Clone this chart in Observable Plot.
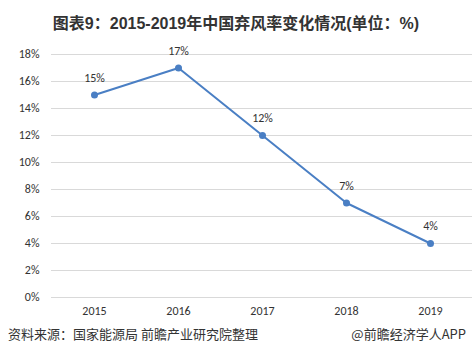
<!DOCTYPE html>
<html>
<head>
<meta charset="utf-8">
<script src="https://cdn.jsdelivr.net/npm/d3@7"></script>
<script src="https://cdn.jsdelivr.net/npm/@observablehq/plot@0.6"></script>
<style>
  html, body { margin: 0; padding: 0; background: #fff; }
  #wrap { position: relative; width: 472px; height: 363px; overflow: hidden; font-family: "Microsoft YaHei", "Noto Sans CJK SC", sans-serif; }
  #title { position: absolute; left: 0; top: 10px; width: 472px; text-align: center; font-size: 16px; font-weight: bold; color: #333; font-family: Arial, "Liberation Sans", "Noto Sans CJK SC", sans-serif; }
  #src { position: absolute; left: 8px; top: 324px; font-size: 13px; color: #333; font-family: "Noto Sans CJK SC", sans-serif; }
  #brand { position: absolute; right: 6px; top: 324px; font-size: 13px; color: #333; font-family: "Noto Sans CJK SC", sans-serif; }
  #chart { position: absolute; left: 0; top: 0; }
</style>
</head>
<body>
<div id="wrap">
  <div id="chart"></div>
  <div id="title">图表9：2015-2019年中国弃风率变化情况(单位：%)</div>
  <div id="src">资料来源：国家能源局 前瞻产业研究院整理</div>
  <div id="brand">@前瞻经济学人APP</div>
</div>
<script>
const years = ["2015", "2016", "2017", "2018", "2019"];
const rates = [15, 17, 12, 7, 4];
const yTicks = [0, 2, 4, 6, 8, 10, 12, 14, 16, 18];

const data = years.map((y, i) => ({year: y, rate: rates[i]}));

const chart = Plot.plot({
  width: 472,
  height: 363,
  marginTop: 54,
  marginBottom: 66,
  marginLeft: 51,
  marginRight: 0,
  style: {fontFamily: "Calibri, Carlito, 'Liberation Sans', Arial, sans-serif", fontSize: "12px", color: "#333", background: "transparent"},
  x: {type: "point", domain: years, padding: 0.5, label: null},
  y: {domain: [0, 18], ticks: yTicks, label: null, tickFormat: d => d + "%"},
  marks: [
    Plot.gridY(yTicks, {stroke: "#d9d9d9", strokeOpacity: 1, strokeWidth: 1}),
    Plot.axisY(yTicks, {tickSize: 0, tickPadding: 12, tickFormat: d => d + "%", fill: "#333", fontSize: 12}),
    Plot.axisX(years, {tickSize: 0, tickPadding: 9, fill: "#333", fontSize: 12}),
    Plot.line(data, {x: "year", y: "rate", stroke: "#4a7fc4", strokeWidth: 2}),
    Plot.dot(data, {x: "year", y: "rate", r: 3.5, fill: "#4a7fc4", stroke: "none"}),
    Plot.text(data, {x: "year", y: "rate", text: d => d.rate + "%", dy: -17, fill: "#333", fontSize: 12})
  ]
});
document.getElementById("chart").appendChild(chart);
</script>
</body>
</html>
